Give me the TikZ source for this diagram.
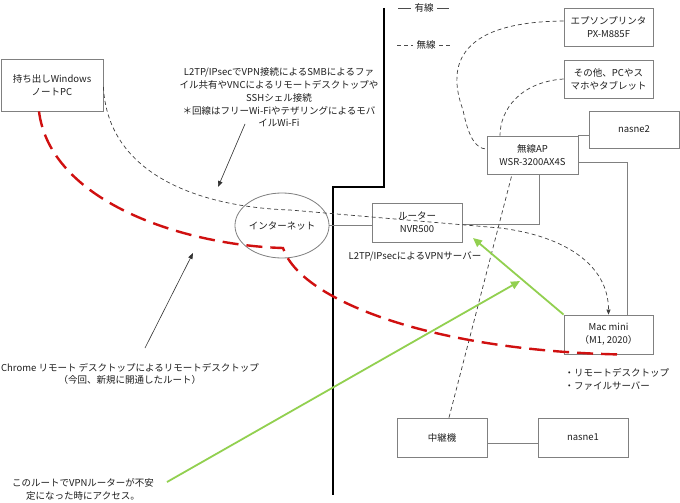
\documentclass[tikz,border=0pt]{standalone}
\usepackage{fontspec}
\newfontfamily\jp{Noto Sans CJK JP}
\usetikzlibrary{arrows.meta,shapes.geometric}
\definecolor{boxgray}{RGB}{128,128,128}
\definecolor{dred}{RGB}{208,16,16}
\definecolor{lgreen}{RGB}{146,208,80}
\definecolor{txt}{RGB}{30,30,30}
\begin{document}
\begin{tikzpicture}[x=1pt,y=-1pt,
  every node/.style={font=\jp\fontsize{9.5}{12.8}\selectfont, text=txt},
  box/.style={draw=boxgray, line width=0.8pt, align=center, inner sep=0pt},
  wire/.style={draw=boxgray, line width=0.8pt},
  wdash/.style={draw=black!75, line width=0.7pt, dash pattern=on 4pt off 3pt},
  redroute/.style={draw=dred, line width=2.4pt, dash pattern=on 16pt off 8pt},
  greenarrow/.style={draw=lgreen, line width=1.8pt, -{Triangle[length=9pt,width=8pt]}},
  thinarrow/.style={draw=black!80, line width=0.6pt, -{Triangle[length=6pt,width=4.5pt]}}
]
\useasboundingbox[fill=white] (0,0) rectangle (680,503);

% border line (wired / wireless boundary)
\draw[line width=2pt, black] (384,8) -- (384,187) -- (333,187) -- (333,495);

% legend
\node (wired) at (424,8) {有線};
\draw[black!70, line width=0.7pt] (398,8) -- (wired.west);
\draw[black!70, line width=0.7pt] (wired.east) -- (449,8);
\node (wless) at (426,45) {無線};
\draw[black!70, line width=0.7pt, dash pattern=on 4pt off 3pt] (397,45) -- (wless.west);
\draw[black!70, line width=0.7pt, dash pattern=on 4pt off 3pt] (wless.east) -- (451,45);

% boxes
\node[box, minimum width=102pt, minimum height=52pt] (win) at (52,85) {持ち出しWindows\\ノートPC};
\node[box, minimum width=89pt, minimum height=38pt] (epson) at (608.5,27) {エプソンプリンタ\\PX-M885F};
\node[box, minimum width=89pt, minimum height=38pt] (other) at (608.5,79) {その他、PCやス\\マホやタブレット};
\node[box, minimum width=90pt, minimum height=37pt] (nasne2) at (634,129.5) {nasne2};
\node[box, minimum width=91pt, minimum height=38pt] (ap) at (532.5,155) {無線AP\\WSR-3200AX4S};
\node[box, minimum width=90pt, minimum height=39pt] (router) at (417,222.5) {ルーター\\NVR500};
\node[box, minimum width=89pt, minimum height=39pt] (mac) at (608.5,334.5) {Mac mini\\（M1, 2020）};
\node[box, minimum width=90pt, minimum height=39pt] (relay) at (442,437.5) {中継機};
\node[box, minimum width=90pt, minimum height=39pt] (nasne1) at (583,437.5) {nasne1};
\node[draw=boxgray, line width=0.8pt, ellipse, minimum width=78pt, minimum height=65pt, inner sep=0pt] (inet) at (282,225.5) {インターネット};

% texts
\node[align=center] (l2tp) at (279,97.5) {L2TP/IPsecでVPN接続によるSMBによるファ\\イル共有やVNCによるリモートデスクトップや\\SSHシェル接続\\＊回線はフリーWi-Fiやテザリングによるモバ\\イルWi-Fi};
\node (vpns) at (415,256) {L2TP/IPsecによるVPNサーバー};
\node[align=left, anchor=west] (macnote) at (561,379.5) {・リモートデスクトップ\\・ファイルサーバー};
\node[align=center] (chrome) at (130,374) {Chrome リモート デスクトップによるリモートデスクトップ\\（今回、新規に開通したルート）};
\node[align=center] (access) at (83,489) {このルートでVPNルーターが不安\\定になった時にアクセス。};

% coordinates
\coordinate (redmid) at (283,248);
\coordinate (g1tip) at (473,238);
\coordinate (g2s) at (167,482);
\coordinate (g2tip) at (520,281);
\coordinate (a1s) at (245,124);
\coordinate (a1e) at (218,187);
\coordinate (a2s) at (145,348);
\coordinate (a2e) at (193,253);

% wired connections
\draw[wire] (inet.east) -- (inet.east -| router.west);
\draw[wire] ([yshift=-2pt]router.east) -| ([xshift=6.5pt]ap.south);
\draw[wire] (ap.north east) -- (ap.north east -| nasne2.west);
\draw[wire] ([yshift=-7pt]ap.east) -| ([xshift=18.5pt]mac.north);
\draw[wire] ([yshift=-5.5pt]relay.east) -- ([yshift=-5.5pt]relay.east -| nasne1.west);

% wireless connections
\draw[wdash] ([yshift=6pt]epson.west) .. controls (442,22) and (452,80) .. (463,110) .. controls (468,135) and (475,149) .. ([yshift=6pt]ap.west);
\draw[wdash] (other.west) .. controls (520,82) and (500,110) .. ([xshift=-32.5pt]ap.north);
\draw[wdash] ([xshift=7pt]relay.north) -- ([xshift=-20.5pt]ap.south);

% VPN route
\draw[wdash, -{Triangle[length=5pt,width=4pt]}] ([yshift=-2pt]win.east) .. controls (108,175) and (200,207) .. (290,210) -- (500,228) .. controls (565,236) and (608.5,265) .. (mac.north);

% Chrome remote desktop route
\draw[redroute] ([xshift=-13pt]win.south) .. controls (50,200) and (180,245) .. (redmid) .. controls (300,300) and (430,350) .. ([xshift=8.5pt]mac.south);

% green routes
\draw[greenarrow] (mac.north west) -- (g1tip);
\draw[greenarrow] (g2s) -- (g2tip);

% annotation arrows
\draw[thinarrow] (a1s) -- (a1e);
\draw[thinarrow] (a2s) -- (a2e);
\end{tikzpicture}
\end{document}
